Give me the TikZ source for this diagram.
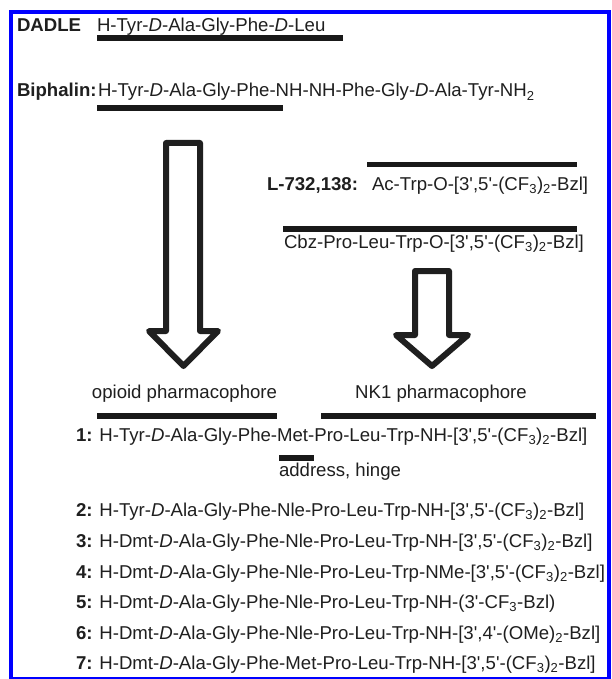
\documentclass[tikz,border=0pt]{standalone}
\usepackage{fontspec}
\setmainfont{Liberation Sans}[Ligatures=TeXOff]
\begin{document}
\begin{tikzpicture}[x=1pt,y=-1pt,
  txt/.style={anchor=base west,inner sep=0pt,outer sep=0pt,font=\fontsize{18.6}{22}\selectfont,text=black!88},
  bar/.style={line width=5.8pt,draw=black!90},
  blockarrow/.style={line width=6pt,draw=black!88,line join=round,fill=white}]
\useasboundingbox (0,0) rectangle (611,679);
\fill[white] (0,0) rectangle (611,679);
\draw[line width=4pt,draw={rgb,255:red,0;green,0;blue,255}] (11,12) rectangle (609,679);
% DADLE
\node[txt] (dadlel) at (17,32) {\textbf{DADLE}};
\node[txt] (dadle) at (97,32) {H-Tyr-\textit{D}-Ala-Gly-Phe-\textit{D}-Leu};
\draw[bar] (97,38) -- (343,38);
% Biphalin
\node[txt] (biphl) at (17,97) {\textbf{Biphalin:}};
\node[txt] (biph) at (98,97) {H-Tyr-\textit{D}-Ala-Gly-Phe-NH-NH-Phe-Gly-\textit{D}-Ala-Tyr-NH\textsubscript{2}};
\draw[bar] (97,108) -- (283,108);
% left block arrow
\draw[blockarrow] (166,143) -- (200,143) -- (200,331) -- (218,331) -- (183.5,366) -- (149,331) -- (166,331) -- cycle;
% L-732,138
\draw[bar] (367,164.5) -- (577,164.5);
\node[txt] (lbl) at (267,190) {\textbf{L-732,138:}};
\node[txt] (lseq) at (372,190) {Ac-Trp-O-[3',5'-(CF\textsubscript{3})\textsubscript{2}-Bzl]};
\draw[bar] (283,229) -- (577,229);
\node[txt] (cbz) at (284,248) {Cbz-Pro-Leu-Trp-O-[3',5'-(CF\textsubscript{3})\textsubscript{2}-Bzl]};
% right block arrow
\draw[blockarrow] (415,271) -- (449,271) -- (449,335) -- (468,335) -- (432,366) -- (396,335) -- (415,335) -- cycle;
% pharmacophores
\node[txt,anchor=base] (opi) at (184.5,398) {opioid pharmacophore};
\node[txt,anchor=base] (nk) at (441,398) {NK1 pharmacophore};
\draw[bar] (97,416) -- (277,416);
\draw[bar] (321,416) -- (596,416);
\node[txt] (c1) at (76,441) {\textbf{1:} H-Tyr-\textit{D}-Ala-Gly-Phe-Met-Pro-Leu-Trp-NH-[3',5'-(CF\textsubscript{3})\textsubscript{2}-Bzl]};
\draw[bar] (279,458) -- (314,458);
\node[txt] (addr) at (279,476) {address, hinge};
% list
\node[txt] (c2) at (76,516.5) {\textbf{2:} H-Tyr-\textit{D}-Ala-Gly-Phe-Nle-Pro-Leu-Trp-NH-[3',5'-(CF\textsubscript{3})\textsubscript{2}-Bzl]};
\node[txt] (c3) at (76,547) {\textbf{3:} H-Dmt-\textit{D}-Ala-Gly-Phe-Nle-Pro-Leu-Trp-NH-[3',5'-(CF\textsubscript{3})\textsubscript{2}-Bzl]};
\node[txt] (c4) at (76,578) {\textbf{4:} H-Dmt-\textit{D}-Ala-Gly-Phe-Nle-Pro-Leu-Trp-NMe-[3',5'-(CF\textsubscript{3})\textsubscript{2}-Bzl]};
\node[txt] (c5) at (76,608.5) {\textbf{5:} H-Dmt-\textit{D}-Ala-Gly-Phe-Nle-Pro-Leu-Trp-NH-(3'-CF\textsubscript{3}-Bzl)};
\node[txt] (c6) at (76,639) {\textbf{6:} H-Dmt-\textit{D}-Ala-Gly-Phe-Nle-Pro-Leu-Trp-NH-[3',4'-(OMe)\textsubscript{2}-Bzl]};
\node[txt] (c7) at (76,669.5) {\textbf{7:} H-Dmt-\textit{D}-Ala-Gly-Phe-Met-Pro-Leu-Trp-NH-[3',5'-(CF\textsubscript{3})\textsubscript{2}-Bzl]};
\end{tikzpicture}
\end{document}
